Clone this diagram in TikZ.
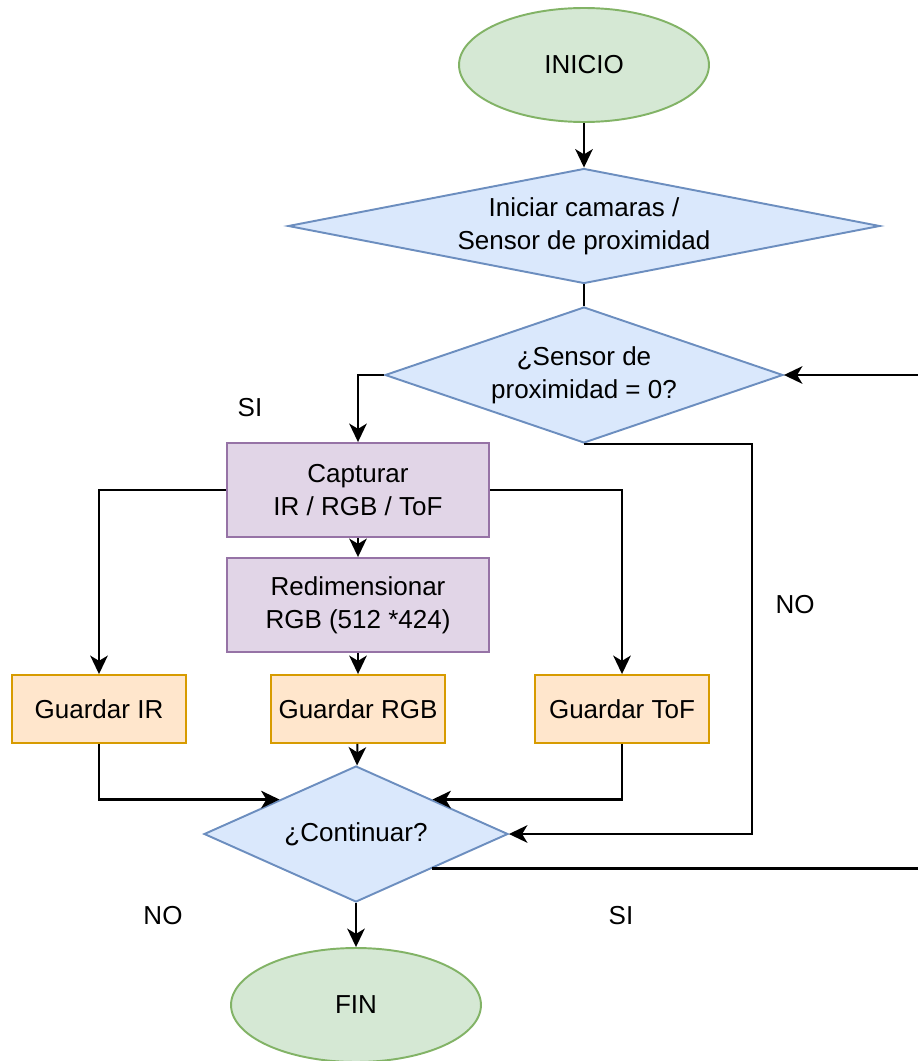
\documentclass[tikz,border=0pt]{standalone}
\usepackage{fontspec}
\setmainfont{Liberation Sans}
\usepackage{tikz}
\usetikzlibrary{shapes.geometric,arrows.meta,calc}

\definecolor{verdeF}{HTML}{D5E8D4}
\definecolor{verdeB}{HTML}{82B366}
\definecolor{azulF}{HTML}{DAE8FC}
\definecolor{azulB}{HTML}{6C8EBF}
\definecolor{moradoF}{HTML}{E1D5E7}
\definecolor{moradoB}{HTML}{9673A6}
\definecolor{naranjaF}{HTML}{FFE6CC}
\definecolor{naranjaB}{HTML}{D79B00}

\begin{document}
\begin{tikzpicture}[
        x = 0.02cm, y = -0.02cm,
        every node/.style = {font=\fontsize{14.8}{19}\selectfont, align=center},
        terminal/.style = {ellipse, draw=verdeB, fill=verdeF, line width=1.1pt,
                           minimum width=5cm, minimum height=2.28cm},
        decision/.style = {diamond, draw=azulB, fill=azulF, line width=1.1pt, inner sep=0pt},
        proceso/.style = {rectangle, draw=moradoB, fill=moradoF, line width=1.1pt,
                          minimum width=5.24cm, minimum height=1.88cm},
        guardar/.style = {rectangle, draw=naranjaB, fill=naranjaF, line width=1.1pt,
                          minimum width=3.48cm, minimum height=1.36cm},
        flecha/.style = {-{Stealth[length=10.5pt,width=10pt,inset=3pt]}, line width=1.2pt},
        linea/.style = {line width=1.2pt},
      ]
      \useasboundingbox (0,0) rectangle (917,1061);

      % bloques
      \node[terminal] (inicio) at (584,65) {INICIO};
      \node[decision, aspect=5.15, minimum width=11.84cm, minimum height=2.3cm]
        (iniciar) at (584,226) {Iniciar camaras /\\Sensor de proximidad};
      \node[decision, aspect=2.93, minimum width=7.96cm, minimum height=2.72cm]
        (prox) at (584,375) {¿Sensor de\\proximidad = 0?};
      \node[proceso] (captura) at (358,490) {Capturar\\IR / RGB / ToF};
      \node[proceso] (redim) at (358,605) {Redimensionar\\RGB (512 *424)};
      \node[guardar] (gir) at (99,709) {Guardar IR};
      \node[guardar] (grgb) at (358,709) {Guardar RGB};
      \node[guardar] (gtof) at (622,709) {Guardar ToF};
      \node[decision, aspect=2.24, minimum width=6.08cm, minimum height=2.72cm]
        (continuar) at (356,834) {¿Continuar?};
      \node[terminal] (fin) at (356,1005) {FIN};

      % etiquetas
      \node (si1) at (250,408) {SI};
      \node (no1) at (795,605) {NO};
      \node (no2) at (163,916) {NO};
      \node (si2) at (621,916) {SI};

      % conectores
      \coordinate (noX) at (752,0);
      \coordinate (loopX) at (930,0);
      \draw[flecha] (inicio) -- (iniciar);
      \draw[linea] (iniciar) -- (prox);
      \draw[flecha] (prox.west) -| (captura.north);
      \draw[flecha] (captura) -- (redim);
      \draw[flecha] (redim) -- (grgb);
      \draw[flecha] (captura.west) -| (gir.north);
      \draw[flecha] (captura.east) -| (gtof.north);
      \draw[flecha] (grgb) -- (continuar);
      \draw[flecha] (gir.south) |- ($(continuar.west)!0.5!(continuar.north)$);
      \draw[flecha] (gtof.south) |- ($(continuar.east)!0.5!(continuar.north)$);
      \draw[flecha] (continuar) -- (fin);
      \draw[flecha] (prox.south) -| (noX |- continuar.east) -- (continuar.east);
      \draw[flecha] ($(continuar.east)!0.5!(continuar.south)$) -| (loopX |- prox.east) -- (prox.east);

    \end{tikzpicture}
\end{document}
